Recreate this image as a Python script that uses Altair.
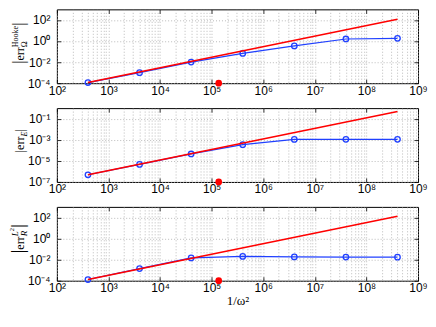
import altair as alt
import pandas as pd

# ---- data ----
x_vals = [4e2, 4e3, 4e4, 4e5, 4e6, 4e7, 4e8]
err_hooke = [1.15e-4, 1.0e-3, 1.0e-2, 6.6e-2, 3.4e-1, 1.55, 1.8]
err_E = [4.8e-7, 4.6e-6, 4.5e-5, 3.4e-4, 1.07e-3, 1.1e-3, 1.1e-3]
err_L2 = [1.3e-4, 1.4e-3, 1.45e-2, 2.0e-2, 1.8e-2, 1.75e-2, 1.7e-2]

ref_x = [4e2, 4e8]
ref_hooke = [1.15e-4, 1.15e2]
ref_E = [4.8e-7, 4.8e-1]
ref_L2 = [1.3e-4, 1.3e2]

marker_x = [1.37e5]

x_domain = [1e2, 1e9]
y_domains = [[1e-4, 1e3], [1e-7, 1e0], [1e-4, 1e3]]
y_ticks = [[1e-4, 1e-2, 1e0, 1e2], [1e-7, 1e-5, 1e-3, 1e-1], [1e-4, 1e-2, 1e0, 1e2]]
x_decades = [1e2, 1e3, 1e4, 1e5, 1e6, 1e7, 1e8, 1e9]
x_grid = [m * d for d in x_decades[:-1] for m in range(1, 10)] + [1e9]

W, H = 362, 74
BLUE = "#2040ff"
RED = "#ff0000"
SERIF = "Liberation Serif"

SUP = "['\u2070','\u00b9','\u00b2','\u00b3','\u2074','\u2075','\u2076','\u2077','\u2078','\u2079']"
E = "round(log(datum.value)/LN10)"
LABEL_EXPR = (
    f"(abs(log(datum.value)/LN10 - {E}) < 0.01) ? "
    f"'10' + ({E} < 0 ? '\u207b' : '') + {SUP}[abs({E})] : ''"
)

dummy = pd.DataFrame({"a": [0]})


def piece(text, x, y, size, italic=False):
    return alt.Chart(dummy).mark_text(
        text=text, angle=270, align="left", baseline="alphabetic",
        fontSize=size, font=SERIF, fontStyle="italic" if italic else "normal",
        color="black",
    ).encode(x=alt.value(x), y=alt.value(y))


def panel(i, yvals, refy, title_pieces, xtitle=None):
    xs = alt.Scale(type="log", domain=x_domain, nice=False)
    ys = alt.Scale(type="log", domain=y_domains[i], nice=False)
    df = pd.DataFrame({"x": x_vals, "y": yvals})
    dref = pd.DataFrame({"x": ref_x, "y": refy})
    ddot = pd.DataFrame({"x": marker_x, "y": [y_domains[i][0]] * len(marker_x)})

    main_x = alt.Axis(values=x_grid, labelExpr=LABEL_EXPR, labelOverlap=False,
                      labelFlush=False, ticks=False, domain=False, grid=True,
                      gridDash=[1, 2], gridColor="#aaaaaa", gridWidth=0.8,
                      labelPadding=2, title=xtitle if xtitle else None,
                      titleFont=SERIF, titleFontSize=13, titleFontWeight="normal",
                      titlePadding=1, titleColor="black")
    main_y = alt.Axis(values=y_ticks[i], labelExpr=LABEL_EXPR, labelOverlap=False,
                      ticks=False, domain=False, grid=True, gridDash=[1, 2],
                      gridColor="#aaaaaa", gridWidth=0.8, labelPadding=7, title=None)

    def tick_axis(orient, offset, values):
        return alt.Axis(orient=orient, offset=offset, values=values, labels=False,
                        domain=False, grid=False, ticks=True, tickSize=4,
                        tickColor="black", tickWidth=0.8, title=None)

    blue_line = alt.Chart(df).mark_line(color=BLUE, strokeWidth=1.2).encode(
        x=alt.X("x:Q", scale=xs, axis=main_x),
        y=alt.Y("y:Q", scale=ys, axis=main_y),
    )
    blue_pts = alt.Chart(df).mark_point(shape="circle", filled=False, size=30,
                                        strokeWidth=1.3, color=BLUE, opacity=1).encode(
        x=alt.X("x:Q", scale=xs, axis=tick_axis("top", -H, x_decades)),
        y=alt.Y("y:Q", scale=ys, axis=tick_axis("right", -W, y_ticks[i])),
    )
    red_line = alt.Chart(dref).mark_line(color=RED, strokeWidth=1.5).encode(
        x=alt.X("x:Q", scale=xs, axis=tick_axis("bottom", -H, x_decades)),
        y=alt.Y("y:Q", scale=ys, axis=tick_axis("left", -W, y_ticks[i])),
    )
    red_dot = alt.Chart(ddot).mark_point(shape="circle", filled=True, size=45,
                                         color=RED, opacity=1).encode(
        x=alt.X("x:Q", scale=xs, axis=None),
        y=alt.Y("y:Q", scale=ys, axis=None),
    )
    texts = [piece(*p) for p in title_pieces]
    return alt.layer(blue_line, blue_pts, red_line, red_dot, *texts).resolve_axis(
        x="independent", y="independent"
    ).properties(width=W, height=H)


BX = -33
t1 = [("|", BX, 54.5, 16), ("err", BX, 51.3, 12), ("\u03a9", BX + 3, 38, 8),
      ("Hooke", BX - 6, 38, 8), ("|", BX, 16.5, 16)]
t2 = [("|", BX, 44.5, 13), ("err", BX, 41.9, 12), ("E", BX + 3, 28.5, 8, True),
      ("|", BX, 23.5, 13)]
t3 = [("|", BX, 46.5, 18), ("err", BX, 42.9, 12), ("R", BX + 3, 29.5, 9, True),
      ("L", BX - 6, 29.5, 9, True), ("2", BX - 10, 24.5, 6.5), ("|", BX, 21, 18)]

p1 = panel(0, err_hooke, ref_hooke, t1)
p2 = panel(1, err_E, ref_E, t2)
p3 = panel(2, err_L2, ref_L2, t3, xtitle="1/\u03c9\u00b2")

chart = alt.vconcat(p1, p2, p3, spacing=10).properties(padding=0).configure_view(
    stroke="black", strokeWidth=1
).configure_axis(
    labelFont="Liberation Sans", labelFontSize=12, labelColor="black"
)

chart.save("out.html", embed_options={"renderer": "svg", "actions": False})
